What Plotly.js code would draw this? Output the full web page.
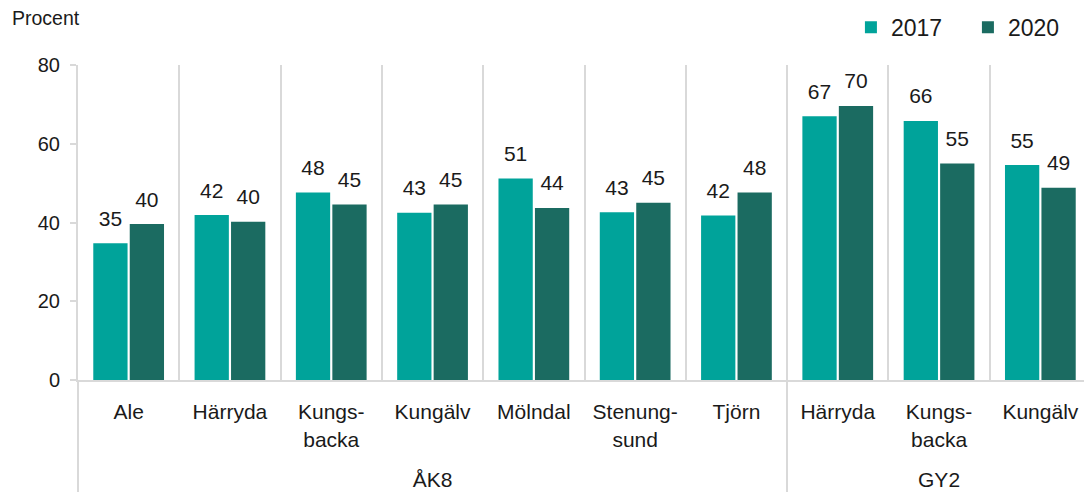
<!DOCTYPE html>
<html>
<head>
<meta charset="utf-8">
<script src="https://cdn.plot.ly/plotly-3.0.1.min.js"></script>
<style>
html,body{margin:0;padding:0;overflow:hidden;background:#fff;}
#chart{width:1092px;height:492px;}
</style>
</head>
<body>
<div id="chart"></div>
<script>
// Data
var groups = ["ÅK8","ÅK8","ÅK8","ÅK8","ÅK8","ÅK8","ÅK8","GY2","GY2","GY2"];
var categories = ["Ale","Härryda","Kungs-<br>backa","Kungälv","Mölndal","Stenung-<br>sund","Tjörn","Härryda","Kungs-<br>backa","Kungälv"];
var values2017 = [34.7, 41.9, 47.6, 42.5, 51.2, 42.6, 41.8, 67.0, 65.8, 54.6];
var values2020 = [39.6, 40.2, 44.6, 44.6, 43.7, 45.0, 47.6, 69.6, 55.0, 48.8];
var seriesNames = ["2017","2020"];
var yTicks = [0, 20, 40, 60, 80];
var yTitle = "Procent";

var colors = ["#00A39A", "#1B6B61"];
var fontFam = "Liberation Sans, Arial, sans-serif";
// group labels sit below the two-line category labels: push them down one line
var x = [groups.map(function (g) { return "<br>" + g; }), categories];

function barTrace(vals, i) {
  return {
    type: "bar", x: x, y: vals, name: seriesNames[i],
    marker: {color: colors[i]}, offsetgroup: String(i),
    hoverinfo: "y+name"
  };
}
function labelTrace(vals, i) {
  return {
    type: "scatter", mode: "markers+text", x: x, y: vals,
    offsetgroup: String(i), showlegend: false, hoverinfo: "skip",
    marker: {size: 18, opacity: 0, color: colors[i]},
    texttemplate: "%{y:.0f}", textposition: "top center",
    textfont: {family: fontFam, size: 21, color: "#1a1a1a"},
    cliponaxis: false
  };
}

var data = [
  barTrace(values2017, 0), barTrace(values2020, 1),
  labelTrace(values2017, 0), labelTrace(values2020, 1)
];

var layout = {
  width: 1092, height: 492,
  margin: {l: 78, r: 1, t: 65, b: 112},
  paper_bgcolor: "#fff", plot_bgcolor: "#fff",
  font: {family: fontFam, size: 20, color: "#1a1a1a"},
  barmode: "group", bargap: 0.28, bargroupgap: 0.06,
  scattermode: "group", scattergap: 0.28,
  showlegend: true,
  legend: {
    orientation: "h", x: 0.763, xanchor: "left", y: 1.12, yanchor: "middle",
    font: {family: fontFam, size: 23, color: "#1a1a1a"},
    bgcolor: "rgba(0,0,0,0)", traceorder: "normal",
    entrywidth: 72, entrywidthmode: "pixels"
  },
  xaxis: {
    type: "multicategory",
    showgrid: true, gridcolor: "#d9d9d9", gridwidth: 2,
    showline: true, linecolor: "#d9d9d9", linewidth: 2,
    ticks: "", tickson: "boundaries",
    showdividers: true, dividercolor: "#d9d9d9", dividerwidth: 2,
    tickfont: {family: fontFam, size: 21, color: "#1a1a1a"},
    ticklabelstandoff: 12,
    zeroline: false
  },
  yaxis: {
    range: [0, 80], tickvals: yTicks, ticktext: yTicks.map(String),
    showgrid: false, zeroline: false,
    showline: true, linecolor: "#d9d9d9", linewidth: 2,
    ticks: "outside", ticklen: 6, tickcolor: "#d9d9d9", tickwidth: 2,
    tickfont: {family: fontFam, size: 20, color: "#1a1a1a"},
    ticklabelstandoff: 6
  },
  annotations: [{
    text: yTitle, xref: "paper", yref: "paper",
    x: -0.0671, xanchor: "left", y: 1.149, yanchor: "middle",
    showarrow: false, font: {family: fontFam, size: 19.5, color: "#1a1a1a"}
  }]
};

Plotly.newPlot("chart", data, layout, {displayModeBar: false, staticPlot: true});
</script>
</body>
</html>
